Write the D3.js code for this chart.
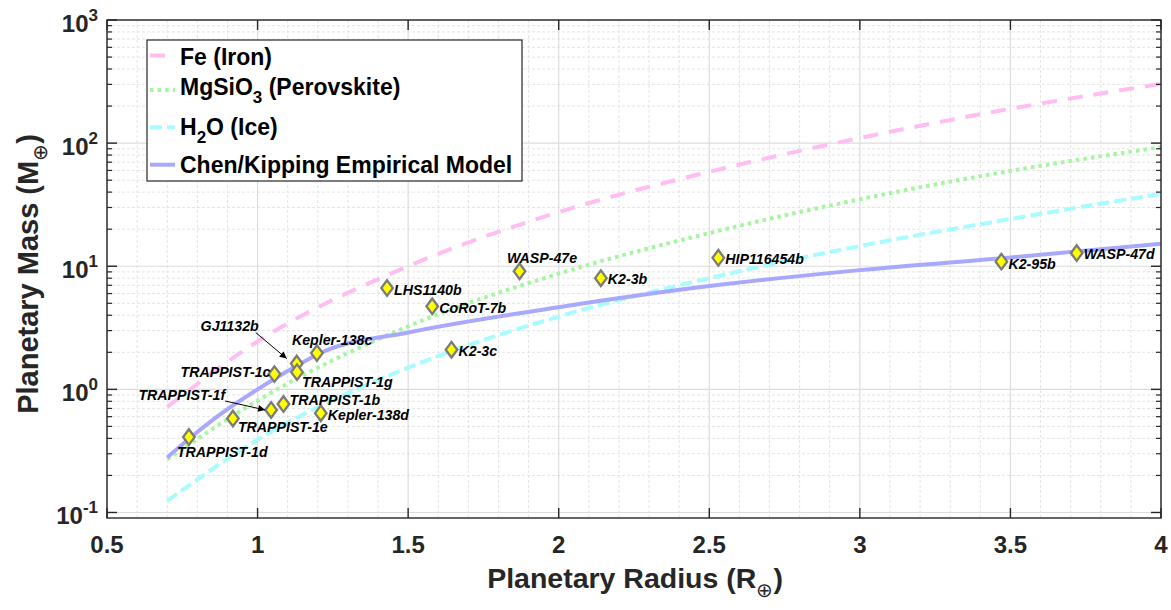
<!DOCTYPE html>
<html><head><meta charset="utf-8">
<script src="https://cdn.jsdelivr.net/npm/d3@7"></script>
<style>
body{margin:0;background:#fff}
svg{display:block}
text{font-family:"Liberation Sans",Arial,Helvetica,sans-serif;fill:#262626}
</style>
</head><body>
<svg id="chart" width="1171" height="610"></svg>
<script>
// ---------- data ----------
const planetNames = ["TRAPPIST-1d","TRAPPIST-1e","TRAPPIST-1f","TRAPPIST-1b","Kepler-138d","TRAPPIST-1c",
  "GJ1132b","TRAPPIST-1g","Kepler-138c","LHS1140b","CoRoT-7b","WASP-47e","K2-3c","K2-3b","HIP116454b","K2-95b","WASP-47d"];
const planetRadius = [0.772,0.918,1.045,1.086,1.21,1.056,1.13,1.131,1.197,1.43,1.58,1.87,1.644,2.14,2.53,3.47,3.72];
const planetMass   = [0.41,0.58,0.68,0.76,0.64,1.33,1.62,1.38,1.97,6.65,4.73,9.1,2.1,8.0,11.7,10.9,12.8];

const radiusGrid     = [0.7, 1.0, 1.5, 2.0, 2.5, 3.0, 3.5, 4.0];
const ironMass       = [0.72, 2.45, 10.0, 27.5, 58.5, 110, 190, 303];
const perovskiteMass = [0.27, 0.81, 3.25, 8.7, 18.6, 35, 59.5, 92.8];
const iceMass        = [0.124, 0.39, 1.5, 3.9, 8.0, 14.6, 24.2, 38.8];

const chenRadius = [0.7, 0.8, 0.9, 1.0, 1.1, 1.22, 1.5, 2.0, 2.5, 3.0, 3.5, 4.0];
const chenMass   = [0.28, 0.45, 0.69, 1.0, 1.41, 2.03, 2.9, 4.65, 6.9, 9.3, 11.8, 15.2];

const xTicks = [0.5, 1, 1.5, 2, 2.5, 3, 3.5, 4];
const xTickLabels = ["0.5","1","1.5","2","2.5","3","3.5","4"];
const yTickExponents = [-1, 0, 1, 2, 3];
const yTickLabels = ["-1","0","1","2","3"];

const legendLabels = [
  [{t:"Fe (Iron)"}],
  [{t:"MgSiO"},{t:"3",sub:true},{t:" (Perovskite)"}],
  [{t:"H"},{t:"2",sub:true},{t:"O (Ice)"}],
  [{t:"Chen/Kipping Empirical Model"}]
];

// ---------- layout ----------
const svg = d3.select("#chart");
const L = 107, R = 1161, T = 20, B = 518;
const x = d3.scaleLinear().domain([0.5, 4]).range([L, R]);
const y = d3.scaleLog().domain([0.0902, 1000]).range([B, T]);
const axisColor = "#262626";

const series = [
  {rad: radiusGrid, mass: ironMass,       color:"#ffbdf2", dash:"15,11", width:4},
  {rad: radiusGrid, mass: perovskiteMass, color:"#a6f5a0", dash:"3.6,4", width:4},
  {rad: radiusGrid, mass: iceMass,        color:"#a8fbff", dash:"12,5",  width:4},
  {rad: chenRadius, mass: chenMass,       color:"#a8a8fc", dash:null,    width:4}
];

// grid
const gGrid = svg.append("g");
const xMinor = d3.range(5, 41).map(d => d/10).filter(d => Math.abs(d*2 - Math.round(d*2)) > 1e-6);
const yMinor = [];
for (let e = -2; e <= 2; e++) for (let k = 2; k <= 9; k++) {
  const v = k * Math.pow(10, e);
  if (v > y.domain()[0] && v < 1000) yMinor.push(v);
}
const yMajor = yTickExponents.map(e => Math.pow(10, e));

gGrid.selectAll(".xm").data(xMinor).join("line")
  .attr("x1", d => x(d)).attr("x2", d => x(d)).attr("y1", T).attr("y2", B)
  .attr("stroke", "#e4e4e4").attr("stroke-width", 1).attr("stroke-dasharray", "3,2");
gGrid.selectAll(".ym").data(yMinor).join("line")
  .attr("x1", L).attr("x2", R).attr("y1", d => y(d)).attr("y2", d => y(d))
  .attr("stroke", "#e4e4e4").attr("stroke-width", 1).attr("stroke-dasharray", "3,2");
gGrid.selectAll(".xM").data(xTicks).join("line")
  .attr("x1", d => x(d)).attr("x2", d => x(d)).attr("y1", T).attr("y2", B)
  .attr("stroke", "#dcdcdc").attr("stroke-width", 1.2);
gGrid.selectAll(".yM").data(yMajor).join("line")
  .attr("x1", L).attr("x2", R).attr("y1", d => y(d)).attr("y2", d => y(d))
  .attr("stroke", "#dcdcdc").attr("stroke-width", 1.2);

// curves
svg.append("clipPath").attr("id","plotclip").append("rect")
  .attr("x", L).attr("y", T).attr("width", R-L).attr("height", B-T);
const gCurves = svg.append("g").attr("clip-path","url(#plotclip)");
series.forEach(s => {
  const pts = s.rad.map((r, i) => [r, s.mass[i]]);
  gCurves.append("path")
    .attr("d", d3.line().x(d => x(d[0])).y(d => y(d[1])).curve(d3.curveMonotoneX)(pts))
    .attr("fill", "none").attr("stroke", s.color).attr("stroke-width", s.width)
    .attr("stroke-dasharray", s.dash).attr("stroke-linecap", "butt");
});

// axes box + ticks
const gAx = svg.append("g");
gAx.append("rect").attr("x", L).attr("y", T).attr("width", R-L).attr("height", B-T)
  .attr("fill","none").attr("stroke", axisColor).attr("stroke-width", 1.4);
xTicks.forEach(v => {
  gAx.append("line").attr("x1", x(v)).attr("x2", x(v)).attr("y1", B).attr("y2", B-10).attr("stroke", axisColor).attr("stroke-width",1.4);
  gAx.append("line").attr("x1", x(v)).attr("x2", x(v)).attr("y1", T).attr("y2", T+10).attr("stroke", axisColor).attr("stroke-width",1.4);
});
yMajor.forEach(v => {
  gAx.append("line").attr("x1", L).attr("x2", L+10).attr("y1", y(v)).attr("y2", y(v)).attr("stroke", axisColor).attr("stroke-width",1.4);
  gAx.append("line").attr("x1", R).attr("x2", R-10).attr("y1", y(v)).attr("y2", y(v)).attr("stroke", axisColor).attr("stroke-width",1.4);
});
yMinor.forEach(v => {
  gAx.append("line").attr("x1", L).attr("x2", L+5).attr("y1", y(v)).attr("y2", y(v)).attr("stroke", axisColor).attr("stroke-width",1.2);
  gAx.append("line").attr("x1", R).attr("x2", R-5).attr("y1", y(v)).attr("y2", y(v)).attr("stroke", axisColor).attr("stroke-width",1.2);
});

// tick labels
xTicks.forEach((v, i) => {
  svg.append("text").attr("x", x(v)).attr("y", 553).attr("text-anchor","middle")
    .attr("font-size", 24).attr("font-weight","bold").text(xTickLabels[i]);
});
yTickExponents.forEach((e, i) => {
  const t = svg.append("text").attr("x", 98).attr("y", y(Math.pow(10,e)) + 12)
    .attr("text-anchor","end").attr("font-size", 24).attr("font-weight","bold");
  t.append("tspan").text("10");
  t.append("tspan").attr("dy", -11).attr("font-size", 17).text(yTickLabels[i]);
});

// axis titles
const xt = svg.append("text").attr("x", 635).attr("y", 588).attr("text-anchor","middle")
  .attr("font-size", 28.5).attr("font-weight","bold");
xt.append("tspan").text("Planetary Radius (R");
xt.append("tspan").attr("dy", 9).attr("font-size", 20).attr("font-weight","normal").text("\u2295");
xt.append("tspan").attr("dy", -9).text(")");

const yt = svg.append("text").attr("transform", `translate(38,274) rotate(-90)`)
  .attr("text-anchor","middle").attr("font-size", 29).attr("font-weight","bold");
yt.append("tspan").text("Planetary Mass (M");
yt.append("tspan").attr("dy", 9).attr("font-size", 20).attr("font-weight","normal").text("\u2295");
yt.append("tspan").attr("dy", -9).text(")");

// planets
const labelLayout = {
  "TRAPPIST-1d":{dx:-12,dy:20,a:"start"}, "TRAPPIST-1e":{dx:5,dy:14,a:"start"},
  "TRAPPIST-1f":{dx:-46,dy:-10,a:"end"}, "TRAPPIST-1b":{dx:6,dy:1,a:"start"},
  "Kepler-138d":{dx:7,dy:7,a:"start"}, "TRAPPIST-1c":{dx:-4,dy:3,a:"end"},
  "GJ1132b":{dx:-38,dy:-33,a:"end"}, "TRAPPIST-1g":{dx:5,dy:15,a:"start"},
  "Kepler-138c":{dx:-25,dy:-8.5,a:"start"}, "LHS1140b":{dx:7,dy:7,a:"start"},
  "CoRoT-7b":{dx:7,dy:7,a:"start"}, "WASP-47e":{dx:-12.6,dy:-8,a:"start"},
  "K2-3c":{dx:7,dy:6.5,a:"start"}, "K2-3b":{dx:7,dy:6,a:"start"},
  "HIP116454b":{dx:7,dy:6,a:"start"}, "K2-95b":{dx:7,dy:7,a:"start"},
  "WASP-47d":{dx:7,dy:5.5,a:"start"}
};
const arrowLayout = {
  "GJ1132b": {sx:-41, sy:-31, ex:-10, ey:-5},
  "TRAPPIST-1f": {sx:-46, sy:-9, ex:-6, ey:0}
};
svg.append("defs").append("marker").attr("id","ah").attr("viewBox","0 0 10 10")
  .attr("refX",10).attr("refY",5).attr("markerWidth",9).attr("markerHeight",7)
  .attr("markerUnits","userSpaceOnUse").attr("orient","auto")
  .append("path").attr("d","M0,0 L10,5 L0,10 Z").attr("fill","#000");

const gP = svg.append("g");
planetNames.forEach((n, i) => {
  const px = x(planetRadius[i]), py = y(planetMass[i]);
  gP.append("path").attr("d", "M0,-7.8 L5.8,0 L0,7.8 L-5.8,0 Z")
    .attr("transform", `translate(${px},${py})`)
    .attr("fill", "#ffff00").attr("stroke", "#7a7a7a").attr("stroke-width", 2.3);
});
planetNames.forEach((n, i) => {
  const px = x(planetRadius[i]), py = y(planetMass[i]);
  const lay = labelLayout[n];
  gP.append("text").attr("x", px + lay.dx).attr("y", py + lay.dy).attr("text-anchor", lay.a)
    .attr("font-size", 14.2).attr("font-weight","bold").attr("font-style","italic")
    .style("fill","#000").text(n);
  const ar = arrowLayout[n];
  if (ar) {
    gP.append("line").attr("x1", px+ar.sx).attr("y1", py+ar.sy).attr("x2", px+ar.ex).attr("y2", py+ar.ey)
      .attr("stroke","#000").attr("stroke-width",1).attr("marker-end","url(#ah)");
  }
});

// legend
const gL = svg.append("g");
gL.append("rect").attr("x", 147).attr("y", 40).attr("width", 375).attr("height", 141)
  .attr("fill","#fff").attr("stroke", axisColor).attr("stroke-width", 1.2);
const legendSampleY = [55.5, 90, 127.3, 164.7];
const legendBaseY = [64.7, 94.7, 134.7, 173];
legendLabels.forEach((parts, i) => {
  const s = series[i];
  gL.append("line").attr("x1", 150).attr("x2", 175).attr("y1", legendSampleY[i]).attr("y2", legendSampleY[i])
    .attr("stroke", s.color).attr("stroke-width", s.width).attr("stroke-dasharray", s.dash);
  const t = gL.append("text").attr("x", 180).attr("y", legendBaseY[i])
    .attr("font-size", 23).attr("font-weight","bold").style("fill","#000");
  let shifted = false;
  parts.forEach(p => {
    const ts = t.append("tspan").text(p.t);
    if (p.sub) { ts.attr("dy", 8).attr("font-size", 17); shifted = true; }
    else if (shifted) { ts.attr("dy", -8); shifted = false; }
  });
});
</script>
</body></html>
